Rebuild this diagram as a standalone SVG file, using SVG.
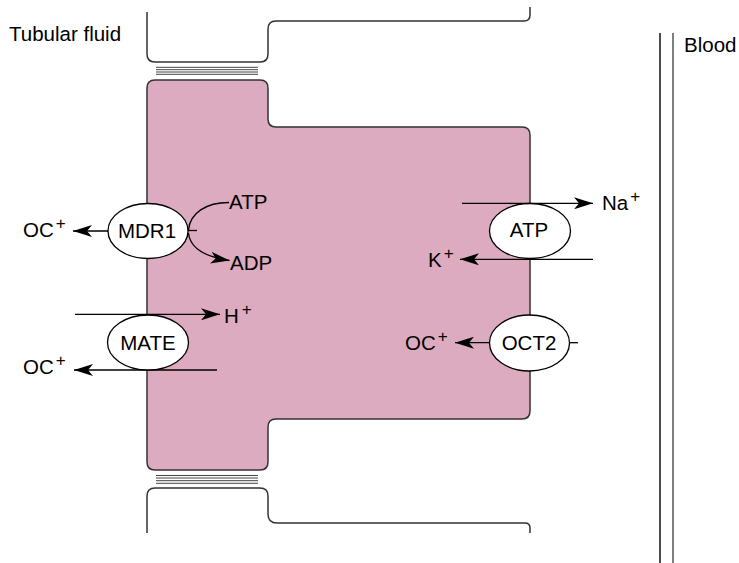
<svg xmlns="http://www.w3.org/2000/svg" width="739" height="563" viewBox="0 0 739 563">
<defs>
<style>
text{font-family:"Liberation Sans",Arial,Helvetica,sans-serif;font-size:20.5px;fill:#000}
.sup{font-size:17px}
.mid{text-anchor:middle}
.cell{fill:#dcabbf;stroke:#333;stroke-width:1.5}
.wall{fill:none;stroke:#333;stroke-width:1.5}
.tj{stroke:#444;stroke-width:1}
.con{fill:none;stroke:#000;stroke-width:1.3}
.arr{marker-end:url(#ah)}
.node ellipse{fill:#fff;stroke:#000;stroke-width:1.3}
</style>
<marker id="ah" markerUnits="userSpaceOnUse" viewBox="-19 -6 19 12" markerWidth="19" markerHeight="12" refX="0" refY="0" orient="auto">
<path d="M0,0 L-19,-6 L-14,0 L-19,6 Z" fill="#000"/>
</marker>
</defs>
<rect width="739" height="563" fill="#fff"/>
<g id="tubule">
<path class="wall" d="M147,12 L147,54 Q147,62 155,62 L260,62 Q268,62 268,54 L268,29 Q268,21 276,21 L524,21 Q530,21 530,15 L530,7"/>
<path class="cell" d="M147,88 Q147,80 155,80 L260,80 Q268,80 268,88 L268,119 Q268,127 276,127 L522,127 Q530,127 530,135 L530,411 Q530,419 522,419 L276,419 Q268,419 268,427 L268,462 Q268,470 260,470 L155,470 Q147,470 147,462 Z"/>
<path class="wall" d="M147,533 L147,496 Q147,488 155,488 L260,488 Q268,488 268,496 L268,514 Q268,523 277,523 L525,523 Q530,523 530,528 L530,533"/>
<g class="tj">
<line x1="156" y1="67.3" x2="258" y2="67.3"/>
<line x1="156" y1="69.7" x2="258" y2="69.7"/>
<line x1="156" y1="72" x2="258" y2="72"/>
<line x1="156" y1="74.3" x2="258" y2="74.3"/>
<line x1="156" y1="475.5" x2="258" y2="475.5"/>
<line x1="156" y1="478" x2="258" y2="478"/>
<line x1="156" y1="480.7" x2="258" y2="480.7"/>
<line x1="156" y1="483.3" x2="258" y2="483.3"/>
</g>
</g>
<g id="blood-vessel">
<line x1="660" y1="33" x2="660" y2="563" stroke="#111" stroke-width="1.5"/>
<line x1="673" y1="33" x2="673" y2="563" stroke="#555" stroke-width="1.5"/>
</g>
<text x="9" y="41">Tubular fluid</text>
<text x="684" y="52">Blood</text>
<g id="connectors">
<line class="con arr" x1="108" y1="231" x2="73" y2="231"/>
<path class="con" d="M229,202.5 C206,202.5 190,213 188.5,230"/>
<line class="con" x1="188" y1="230.5" x2="197" y2="230.5"/>
<path class="con arr" d="M188.5,233 C190,248 206,257 229.5,260.5"/>
<line class="con arr" x1="75" y1="314.3" x2="220" y2="314.3"/>
<line class="con arr" x1="217" y1="370" x2="74" y2="370"/>
<line class="con arr" x1="462" y1="203.3" x2="593" y2="203.3"/>
<line class="con arr" x1="593" y1="259.3" x2="460" y2="259.3"/>
<line class="con arr" x1="490" y1="342.7" x2="455" y2="342.7"/>
<line class="con" x1="569.5" y1="342.7" x2="578" y2="342.7"/>
</g>
<g id="MDR1" class="node">
<ellipse cx="148" cy="231" rx="40" ry="27.5"/>
<text class="mid" x="147" y="238">MDR1</text>
</g>
<g id="MATE" class="node">
<ellipse cx="148" cy="342.5" rx="40.5" ry="27.5"/>
<text class="mid" x="148" y="349.5">MATE</text>
</g>
<g id="NaK-ATPase" class="node">
<ellipse cx="530" cy="231" rx="40.5" ry="27.5"/>
<text class="mid" x="529" y="237">ATP</text>
</g>
<g id="OCT2" class="node">
<ellipse cx="529.5" cy="343" rx="40" ry="28"/>
<text class="mid" x="529" y="350">OCT2</text>
</g>
<g id="labels">
<text x="23" y="237">OC<tspan class="sup" dx="2" dy="-8">+</tspan></text>
<text x="229" y="209">ATP</text>
<text x="230" y="270">ADP</text>
<text x="224" y="323">H<tspan class="sup" dx="3" dy="-8">+</tspan></text>
<text x="23" y="374">OC<tspan class="sup" dx="2" dy="-8">+</tspan></text>
<text x="602" y="210">Na<tspan class="sup" dx="2" dy="-8">+</tspan></text>
<text x="428" y="266.7">K<tspan class="sup" dx="2" dy="-8">+</tspan></text>
<text x="405" y="350">OC<tspan class="sup" dx="2" dy="-8">+</tspan></text>
</g>
</svg>
